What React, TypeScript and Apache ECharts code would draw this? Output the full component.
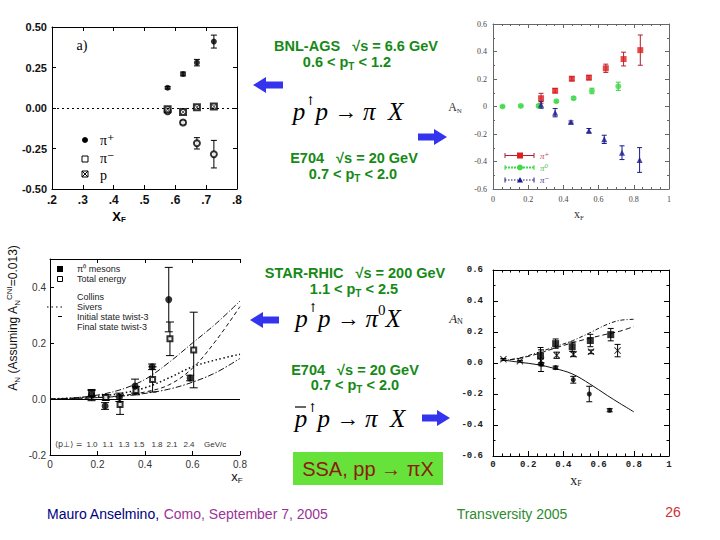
import React, { useEffect, useRef } from 'react';
import * as echarts from 'echarts';

// ---------- Panel 1 : BNL-AGS ----------
const agsX = [0.575, 0.625, 0.67, 0.725];
const agsPipY = [0.125, 0.21, 0.28, 0.41];
const agsPipErr = [0.008, 0.012, 0.02, 0.04];
const agsPimY = [-0.02, -0.09, -0.218, -0.285];
const agsPimErr = [0.01, 0.012, 0.035, 0.085];
const agsProtY = [-0.008, -0.025, 0.004, 0.01];

// ---------- Panel 2 : E704 pi+ pi0 pi- ----------
const e7PipX = [0.273, 0.353, 0.448, 0.545, 0.641, 0.742, 0.837];
const e7PipY = [0.06, 0.115, 0.202, 0.21, 0.278, 0.345, 0.41];
const e7PipErr = [0.036, 0.016, 0.015, 0.016, 0.03, 0.05, 0.11];
const e7Pi0X = [0.054, 0.158, 0.259, 0.36, 0.458, 0.562, 0.712];
const e7Pi0Y = [0.0, 0.004, 0.005, 0.038, 0.06, 0.113, 0.147];
const e7Pi0Err = [0.006, 0.006, 0.008, 0.008, 0.01, 0.02, 0.03];
const e7PimX = [0.273, 0.353, 0.443, 0.545, 0.632, 0.733, 0.833];
const e7PimY = [0.012, -0.045, -0.113, -0.176, -0.239, -0.336, -0.389];
const e7PimErr = [0.025, 0.03, 0.008, 0.016, 0.03, 0.05, 0.09];

// ---------- Panel 3 : STAR-RHIC pi0 ----------
const starX = [0.175, 0.232, 0.292, 0.358, 0.43, 0.5, 0.59];
const starY = [0.014, -0.025, 0.006, 0.046, 0.115, 0.355, 0.075];
const starErr = [0.02, 0.012, 0.015, 0.025, 0.01, 0.115, 0.01];
const starTotX = [0.175, 0.235, 0.295, 0.362, 0.432, 0.505, 0.605];
const starTotY = [0.02, 0.005, -0.02, 0.03, 0.07, 0.215, 0.175];
const starTotErr = [0.01, 0.01, 0.035, 0.015, 0.045, 0.06, 0.135];
const starCurveX = [0, 0.1, 0.2, 0.3, 0.4, 0.5, 0.6, 0.7, 0.8];
const starCollins = [0, 0.004, 0.014, 0.034, 0.07, 0.13, 0.2, 0.27, 0.35];
const starSivers = [0, 0.004, 0.01, 0.02, 0.04, 0.075, 0.115, 0.14, 0.16];
const starInitial = [0, 0.002, 0.005, 0.01, 0.02, 0.035, 0.06, 0.095, 0.145];
const starFinal = [0, 0.002, 0.005, 0.012, 0.025, 0.05, 0.11, 0.21, 0.33];
const starPtLabels = ['1.0', '1.1', '1.3', '1.5', '1.8', '2.1', '2.4'];

// ---------- Panel 4 : E704 pbar ----------
const pbSqX = [0.27, 0.356, 0.45, 0.553, 0.669];
const pbSqY = [0.045, 0.125, 0.105, 0.145, 0.183];
const pbSqErr = [0.055, 0.03, 0.03, 0.04, 0.04];
const pbStarX = [0.059, 0.153, 0.273, 0.362, 0.457, 0.557, 0.708];
const pbStarY = [0.024, 0.012, 0.015, 0.05, 0.056, 0.072, 0.08];
const pbStarErr = [0.005, 0.005, 0.07, 0.02, 0.015, 0.012, 0.04];
const pbNegX = [0.275, 0.356, 0.456, 0.547, 0.663];
const pbNegY = [-0.008, -0.03, -0.108, -0.2, -0.305];
const pbNegErr = [0.01, 0.01, 0.022, 0.05, 0.01];
const pbCurveX = [0.05, 0.15, 0.25, 0.35, 0.45, 0.55, 0.65, 0.72, 0.8];
const pbUpper = [0.015, 0.032, 0.066, 0.104, 0.143, 0.195, 0.25, 0.275, 0.282];
const pbDashed = [0.015, 0.03, 0.058, 0.095, 0.13, 0.16, 0.187, 0.205, 0.235];
const pbLower = [0.02, 0.005, -0.01, -0.035, -0.07, -0.135, -0.21, -0.26, -0.315];

const SANS = '"Liberation Sans", Arial, sans-serif';
const SERIF = '"Liberation Serif", "DejaVu Serif", "Times New Roman", serif';
const MONO = '"Liberation Mono", "DejaVu Sans Mono", monospace';
const GREEN = '#168a16';
const BLUE_ARROW = '#3434ee';
const CROSS = 'path://M0,1L1,0L5,4L9,0L10,1L6,5L10,9L9,10L5,6L1,10L0,9L4,5Z';

const fmt1 = (v: number) => (Math.abs(v) < 1e-9 ? '0' : Math.abs(v - 1) < 1e-9 ? '1' : v.toFixed(1));

function errBars(g: number, xs: number[], ys: number[], es: number[], color: string, cap = 3, lw = 1): any {
  return {
    type: 'custom',
    xAxisIndex: 2 * g,
    yAxisIndex: 2 * g,
    silent: true,
    z: 2,
    data: xs.map((x, i) => [x, ys[i] - es[i], ys[i] + es[i]]),
    encode: { x: 0, y: [1, 2] },
    renderItem: (_p: any, api: any) => {
      const lo = api.coord([api.value(0), api.value(1)]);
      const hi = api.coord([api.value(0), api.value(2)]);
      const st = { stroke: color, lineWidth: lw };
      return {
        type: 'group',
        children: [
          { type: 'line', shape: { x1: lo[0], y1: lo[1], x2: hi[0], y2: hi[1] }, style: st },
          { type: 'line', shape: { x1: lo[0] - cap, y1: lo[1], x2: lo[0] + cap, y2: lo[1] }, style: st },
          { type: 'line', shape: { x1: hi[0] - cap, y1: hi[1], x2: hi[0] + cap, y2: hi[1] }, style: st },
        ],
      };
    },
  };
}

function pts(g: number, xs: number[], ys: number[], symbol: string, size: number, color: string, extra: any = {}): any {
  return {
    type: 'scatter',
    xAxisIndex: 2 * g,
    yAxisIndex: 2 * g,
    data: xs.map((x, i) => [x, ys[i]]),
    symbol,
    symbolSize: size,
    itemStyle: { color, borderWidth: 1, ...extra },
    z: 3,
    silent: true,
  };
}

function curve(g: number, xs: number[], ys: number[], type: any, width = 1): any {
  return {
    type: 'line',
    xAxisIndex: 2 * g,
    yAxisIndex: 2 * g,
    data: xs.map((x, i) => [x, ys[i]]),
    smooth: 0.35,
    symbol: 'none',
    lineStyle: { color: '#111', width, type },
    silent: true,
    z: 1,
  };
}

function axisPair(g: number, dir: 'x' | 'y', base: any, labelStyle: any, tickColor: string, tickLen: number, minor?: any) {
  const main = {
    gridIndex: g,
    type: 'value',
    ...base,
    position: dir === 'x' ? 'bottom' : 'left',
    axisLine: { show: true, onZero: false, lineStyle: { color: tickColor, width: 1 } },
    axisTick: { show: true, inside: true, length: tickLen, lineStyle: { color: tickColor } },
    minorTick: minor ? { show: true, splitNumber: minor, length: tickLen / 2, lineStyle: { color: tickColor } } : { show: false },
    splitLine: { show: false },
    axisLabel: labelStyle,
  };
  const other = {
    ...main,
    position: dir === 'x' ? 'top' : 'right',
    axisLabel: { show: false },
  };
  return [main, other];
}

function txt(x: number, y: number, text: string, style: any = {}, extra: any = {}): any {
  return {
    type: 'text',
    x,
    y,
    silent: true,
    ...extra,
    style: {
      text,
      fontFamily: SANS,
      fontSize: 13,
      fill: '#000',
      align: 'center',
      verticalAlign: 'middle',
      textAlign: 'center',
      textVerticalAlign: 'middle',
      ...style,
    },
  };
}

function arrow(tipX: number, tailX: number, y: number): any {
  const d = tipX < tailX ? 1 : -1;
  const hx = tipX + d * 13;
  return {
    type: 'polygon',
    silent: true,
    shape: {
      points: [
        [tipX, y],
        [hx, y - 8],
        [hx, y - 3.5],
        [tailX, y - 3.5],
        [tailX, y + 3.5],
        [hx, y + 3.5],
        [hx, y + 8],
      ],
    },
    style: { fill: BLUE_ARROW },
  };
}

const formulaRich = {
  i: { fontFamily: SERIF, fontStyle: 'italic', fontSize: 25, lineHeight: 32, fill: '#000' },
  n: { fontFamily: SERIF, fontSize: 23, lineHeight: 32, fill: '#000' },
  u: { fontFamily: '"DejaVu Serif", serif', fontSize: 12, lineHeight: 14, verticalAlign: 'top', fill: '#000' },
  z: { fontFamily: SERIF, fontSize: 15, lineHeight: 14, verticalAlign: 'top', fill: '#000' },
};

const labelRich = {
  g: { fontFamily: SANS, fontWeight: 'bold', fontSize: 14.5, lineHeight: 18, fill: GREEN },
  s: { fontFamily: SANS, fontWeight: 'bold', fontSize: 10, lineHeight: 12, verticalAlign: 'bottom', fill: GREEN },
};

export default function App() {
  const ref = useRef<HTMLDivElement>(null);

  useEffect(() => {
    if (!ref.current) return;
    const chart = echarts.init(ref.current, undefined, { renderer: 'svg' });

    const grids = [
      { left: 52, top: 27, width: 185, height: 162 },
      { left: 493, top: 24, width: 176, height: 165 },
      { left: 50, top: 259, width: 190, height: 196 },
      { left: 493, top: 270, width: 176, height: 186 },
    ];

    const l1x = { fontFamily: SANS, fontWeight: 'bold', fontSize: 12, color: '#111', margin: 5, formatter: (v: number) => '.' + Math.round(v * 10) };
    const l1y = { fontFamily: SANS, fontWeight: 'bold', fontSize: 11, color: '#111', margin: 5, formatter: (v: number) => (v < -1e-9 ? '-' : '') + Math.abs(v).toFixed(2) };
    const l2 = { fontFamily: SERIF, fontSize: 8, color: '#444', margin: 6, formatter: fmt1 };
    const l3x = { fontFamily: SANS, fontSize: 10, color: '#333', margin: 4, formatter: (v: number) => (Math.abs(v) < 1e-9 ? '0' : v.toFixed(1)) };
    const l3y = { fontFamily: SANS, fontSize: 10, color: '#333', margin: 4, formatter: (v: number) => (v > 0.45 ? '' : v.toFixed(1)) };
    const l4x = { fontFamily: MONO, fontWeight: 'bold', fontSize: 9, color: '#222', margin: 4, formatter: fmt1 };
    const l4y = { fontFamily: MONO, fontWeight: 'bold', fontSize: 9, color: '#222', margin: 10, formatter: (v: number) => (Math.abs(v) < 1e-9 ? '0.0' : v.toFixed(1)) };

    const xAxis = [
      ...axisPair(0, 'x', { min: 0.2, max: 0.8, interval: 0.1 }, l1x, '#000', 4),
      ...axisPair(1, 'x', { min: 0, max: 1, interval: 0.2 }, l2, '#666', 4, 4),
      ...axisPair(2, 'x', { min: 0, max: 0.8, interval: 0.2 }, l3x, '#000', 4),
      ...axisPair(3, 'x', { min: 0, max: 1, interval: 0.2 }, l4x, '#000', 5, 4),
    ];
    const yAxis = [
      ...axisPair(0, 'y', { min: -0.5, max: 0.5, interval: 0.25 }, l1y, '#000', 4),
      ...axisPair(1, 'y', { min: -0.6, max: 0.6, interval: 0.2 }, l2, '#666', 4, 2),
      ...axisPair(2, 'y', { min: -0.2, max: 0.5, interval: 0.2 }, l3y, '#000', 4),
      ...axisPair(3, 'y', { min: -0.6, max: 0.6, interval: 0.2 }, l4y, '#000', 5, 2),
    ];
    // panel 3 has no right frame
    (yAxis[5] as any).axisLine = { show: false };
    (yAxis[5] as any).axisTick = { show: false };

    const series: any[] = [
      // Panel 1
      {
        ...pts(0, agsX, agsPipY, 'circle', 6, '#000'),
        markLine: {
          silent: true,
          symbol: 'none',
          label: { show: false },
          lineStyle: { color: '#000', type: [2, 3], width: 1 },
          data: [{ yAxis: 0 }],
        },
      },
      errBars(0, agsX, agsPipY, agsPipErr, '#000', 3),
      errBars(0, agsX, agsPimY, agsPimErr, '#000', 3),
      pts(0, agsX, agsPimY, 'emptyCircle', 6, '#000'),
      pts(0, agsX, agsProtY, 'emptyRect', 6, '#000'),
      pts(0, agsX, agsProtY, CROSS, 5, '#000'),

      // Panel 2
      errBars(1, e7PipX, e7PipY, e7PipErr, '#b02030', 2.5),
      pts(1, e7PipX, e7PipY, 'rect', 6, '#dd1f1f'),
      errBars(1, e7Pi0X, e7Pi0Y, e7Pi0Err, '#3fd23f', 2.5),
      pts(1, e7Pi0X, e7Pi0Y, 'circle', 6, '#3fd84a'),
      errBars(1, e7PimX, e7PimY, e7PimErr, '#1a1a8c', 2.5),
      pts(1, e7PimX, e7PimY, 'triangle', 6, '#1a1a8c'),

      // Panel 3
      {
        ...curve(2, starCurveX, starCollins, [6, 2, 1, 2]),
        markLine: {
          silent: true,
          symbol: 'none',
          label: { show: false },
          lineStyle: { color: '#000', type: 'solid', width: 1 },
          data: [{ yAxis: 0 }],
        },
      },
      curve(2, starCurveX, starSivers, [1.5, 2.5], 1.5),
      curve(2, starCurveX, starInitial, [6, 2, 1.5, 2]),
      curve(2, starCurveX, starFinal, [4, 3]),
      errBars(2, starX, starY, starErr, '#000', 4),
      errBars(2, starTotX, starTotY, starTotErr, '#000', 4),
      pts(2, starTotX, starTotY, 'emptyRect', 5, '#000'),
      pts(2, starX, starY, 'circle', 7, '#000'),

      // Panel 4
      curve(3, pbCurveX, pbUpper, [4, 2, 1, 2]),
      curve(3, pbCurveX, pbDashed, [5, 3]),
      curve(3, pbCurveX, pbLower, 'solid'),
      errBars(3, pbSqX, pbSqY, pbSqErr, '#000', 3),
      errBars(3, pbStarX, pbStarY, pbStarErr, '#000', 3),
      errBars(3, pbNegX, pbNegY, pbNegErr, '#000', 3),
      pts(3, pbSqX, pbSqY, 'rect', 7, '#000'),
      pts(3, pbStarX, pbStarY, CROSS, 7, '#000'),
      pts(3, pbNegX, pbNegY, 'circle', 5, '#000'),
    ];

    const legendLeft = { fontSize: 9, fill: '#222', align: 'left', textAlign: 'left' };

    const graphic: any[] = [
      // Panel 1 decorations
      txt(82, 45, 'a)', { fontFamily: SERIF, fontSize: 14 }),
      { type: 'circle', silent: true, shape: { cx: 85, cy: 140, r: 3 }, style: { fill: '#000' } },
      { type: 'rect', silent: true, shape: { x: 82, y: 156, width: 6, height: 6 }, style: { fill: '#fff', stroke: '#000' } },
      { type: 'rect', silent: true, shape: { x: 82, y: 171, width: 6, height: 6 }, style: { fill: '#fff', stroke: '#000' } },
      { type: 'line', silent: true, shape: { x1: 82, y1: 171, x2: 88, y2: 177 }, style: { stroke: '#000' } },
      { type: 'line', silent: true, shape: { x1: 88, y1: 171, x2: 82, y2: 177 }, style: { stroke: '#000' } },
      txt(100, 140, 'π⁺', { fontFamily: SERIF, fontSize: 14, align: 'left', textAlign: 'left' }),
      txt(100, 158, 'π⁻', { fontFamily: SERIF, fontSize: 14, align: 'left', textAlign: 'left' }),
      txt(100, 175, 'p', { fontFamily: SERIF, fontSize: 14, align: 'left', textAlign: 'left' }),
      txt(119, 216, '{x|X}{f|F}', {
        rich: {
          x: { fontFamily: SANS, fontWeight: 'bold', fontSize: 13, lineHeight: 14 },
          f: { fontFamily: SANS, fontWeight: 'bold', fontSize: 8, lineHeight: 8, verticalAlign: 'bottom' },
        },
      }),

      // Panel 2 decorations
      txt(455, 107, '{a|A}{n|N}', {
        rich: {
          a: { fontFamily: SERIF, fontSize: 12, lineHeight: 14, fill: '#333' },
          n: { fontFamily: SERIF, fontSize: 7, lineHeight: 8, verticalAlign: 'bottom', fill: '#333' },
        },
      }),
      txt(579, 214, '{a|x}{n|F}', {
        rich: {
          a: { fontFamily: SERIF, fontSize: 12, lineHeight: 14, fill: '#333' },
          n: { fontFamily: SERIF, fontSize: 7, lineHeight: 8, verticalAlign: 'bottom', fill: '#333' },
        },
      }),
      // legend of panel 2
      ...[
        { y: 155.5, c: '#b02030', m: 'rect', label: 'π⁺', lc: '#c05060', dash: 'solid' },
        { y: 167.5, c: '#3fd84a', m: 'circle', label: 'π⁰', lc: '#50c050', dash: [2, 1] },
        { y: 180, c: '#1a1a8c', m: 'tri', label: 'π⁻', lc: '#3a3aa0', dash: [1.5, 1.5] },
      ].flatMap((r) => [
        { type: 'line', silent: true, shape: { x1: 505, y1: r.y, x2: 534, y2: r.y }, style: { stroke: r.c, lineWidth: r.m === 'circle' ? 2 : 1, lineDash: r.dash === 'solid' ? null : r.dash } },
        { type: 'line', silent: true, shape: { x1: 505, y1: r.y - 2.5, x2: 505, y2: r.y + 2.5 }, style: { stroke: r.c } },
        { type: 'line', silent: true, shape: { x1: 534, y1: r.y - 2.5, x2: 534, y2: r.y + 2.5 }, style: { stroke: r.c } },
        r.m === 'rect'
          ? { type: 'rect', silent: true, shape: { x: 517, y: r.y - 3, width: 6, height: 6 }, style: { fill: '#dd1f1f' } }
          : r.m === 'circle'
          ? { type: 'circle', silent: true, shape: { cx: 520, cy: r.y, r: 3 }, style: { fill: r.c } }
          : { type: 'polygon', silent: true, shape: { points: [[520, r.y - 3], [523, r.y + 2.5], [517, r.y + 2.5]] }, style: { fill: r.c } },
        txt(540, r.y, r.label, { fontFamily: SERIF, fontStyle: 'italic', fontSize: 9, fill: r.lc, align: 'left', textAlign: 'left' }),
      ]),

      // Panel 3 decorations
      txt(13, 318, '{a|A}{s|N}{a| (Assuming A}{s|N}{p|CNI}{a|=0.013)}', {
        rich: {
          a: { fontFamily: SANS, fontSize: 12, lineHeight: 16, fill: '#111' },
          s: { fontFamily: SANS, fontSize: 8, lineHeight: 9, verticalAlign: 'bottom', fill: '#111' },
          p: { fontFamily: SANS, fontSize: 8, lineHeight: 9, verticalAlign: 'top', fill: '#111' },
        },
      }, { rotation: Math.PI / 2 }),
      txt(237, 476, '{a|x}{s|F}', {
        rich: {
          a: { fontFamily: SANS, fontSize: 13, lineHeight: 16, fill: '#111' },
          s: { fontFamily: SANS, fontSize: 8, lineHeight: 9, verticalAlign: 'bottom', fill: '#111' },
        },
      }),
      { type: 'rect', silent: true, shape: { x: 57, y: 266, width: 6, height: 6 }, style: { fill: '#000' } },
      { type: 'rect', silent: true, shape: { x: 57.5, y: 276.5, width: 5, height: 5 }, style: { fill: '#fff', stroke: '#000' } },
      { type: 'line', silent: true, shape: { x1: 47, y1: 307, x2: 64, y2: 307 }, style: { stroke: '#000', lineWidth: 1.2, lineDash: [1.5, 3] } },
      { type: 'line', silent: true, shape: { x1: 58, y1: 316.5, x2: 62, y2: 316.5 }, style: { stroke: '#000', lineWidth: 1 } },
      txt(77, 269, 'π⁰ mesons', legendLeft),
      txt(77, 279, 'Total energy', legendLeft),
      txt(77, 297, 'Collins', legendLeft),
      txt(77, 306.5, 'Sivers', legendLeft),
      txt(77, 316.5, 'Initial state twist-3', legendLeft),
      txt(77, 326.5, 'Final state twist-3', legendLeft),
      txt(55, 444, '⟨p⊥⟩ =', { fontSize: 8, fill: '#333', align: 'left', textAlign: 'left', fontFamily: '"DejaVu Sans", sans-serif' }),
      ...starPtLabels.map((s, i) => txt([92, 108, 124, 139, 157, 172, 189][i], 444, s, { fontSize: 8, fill: '#333' })),
      txt(204, 444, 'GeV/c', { fontSize: 8, fill: '#333', align: 'left', textAlign: 'left' }),

      // Panel 4 decorations
      txt(456, 318, '{a|A}{n|N}', {
        rich: {
          a: { fontFamily: SERIF, fontStyle: 'italic', fontSize: 13, lineHeight: 15, fill: '#222' },
          n: { fontFamily: SERIF, fontSize: 8, lineHeight: 9, verticalAlign: 'bottom', fill: '#222' },
        },
      }),
      txt(576, 480, '{a|x}{n|F}', {
        rich: {
          a: { fontFamily: SERIF, fontSize: 14, lineHeight: 14, fill: '#222' },
          n: { fontFamily: SERIF, fontSize: 8, lineHeight: 8, verticalAlign: 'bottom', fill: '#222' },
        },
      }),

      // Slide texts
      txt(356, 46, '{g|BNL-AGS   √s = 6.6 GeV}', { rich: labelRich }),
      txt(347, 62, '{g|0.6 < p}{s|T}{g| < 1.2}', { rich: labelRich }),
      txt(348, 111, '{i|p}{u|↑}{i|p }{n|→ }{i|π  X}', { rich: formulaRich }),
      txt(354, 158, '{g|E704   √s = 20 GeV}', { rich: labelRich }),
      txt(353, 174, '{g|0.7 < p}{s|T}{g| < 2.0}', { rich: labelRich }),

      txt(355, 273, '{g|STAR-RHIC   √s = 200 GeV}', { rich: labelRich }),
      txt(354, 289, '{g|1.1 < p}{s|T}{g| < 2.5}', { rich: labelRich }),
      txt(348, 318, '{i|p}{u|↑}{i|p }{n|→ }{i|π}{z|0}{i|X}', { rich: formulaRich }),
      txt(355, 370, '{g|E704   √s = 20 GeV}', { rich: labelRich }),
      txt(355, 385, '{g|0.7 < p}{s|T}{g| < 2.0}', { rich: labelRich }),
      txt(350, 418, '{i|p}{u|↑}{i|p }{n|→ }{i|π  X}', { rich: formulaRich }),
      { type: 'line', silent: true, shape: { x1: 295, y1: 407, x2: 306, y2: 407 }, style: { stroke: '#000', lineWidth: 1.2 } },

      arrow(253, 283, 85),
      arrow(447, 418, 137),
      arrow(250, 279, 320),
      arrow(450, 422, 418),

      { type: 'rect', silent: true, shape: { x: 293, y: 452, width: 150, height: 33 }, style: { fill: '#66e23a' } },
      txt(368, 469, 'SSA, pp → πX', { fontSize: 20, fill: '#8b1c0c' }),

      // Footer
      txt(47, 514, '{a|Mauro Anselmino, }{b|Como, September 7, 2005}', {
        align: 'left',
        textAlign: 'left',
        rich: {
          a: { fontFamily: SANS, fontSize: 14, fill: '#000080' },
          b: { fontFamily: SANS, fontSize: 14, fill: '#9a3399' },
        },
      }),
      txt(512, 514, 'Transversity 2005', { fontSize: 14, fill: '#2e8b2e' }),
      txt(673, 512, '26', { fontSize: 14, fill: '#cc3333' }),
    ];

    chart.setOption({
      animation: false,
      backgroundColor: '#ffffff',
      grid: grids,
      xAxis,
      yAxis,
      series,
      graphic,
    });

    return () => chart.dispose();
  }, []);

  return (
    <div
      ref={ref}
      style={{ position: 'absolute', left: 0, top: 0, width: 720, height: 540, background: '#fff' }}
    />
  );
}
